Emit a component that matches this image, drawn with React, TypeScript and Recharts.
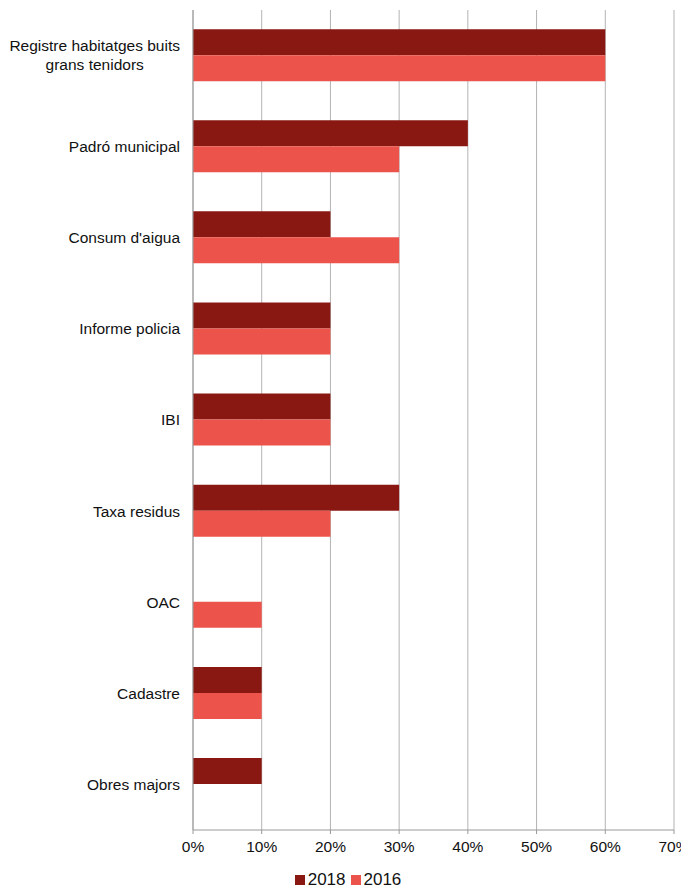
import { BarChart, Bar, XAxis, YAxis, CartesianGrid, Legend } from 'recharts';

const categories = [
  'Registre habitatges buits grans tenidors',
  'Padró municipal',
  "Consum d'aigua",
  'Informe policia',
  'IBI',
  'Taxa residus',
  'OAC',
  'Cadastre',
  'Obres majors',
];
const values2018 = [60, 40, 20, 20, 20, 30, 0, 10, 10];
const values2016 = [60, 30, 30, 20, 20, 20, 10, 10, 0];
const xTicks = [0, 10, 20, 30, 40, 50, 60, 70];
const seriesNames = ['2018', '2016'];
const seriesColors = ['#8a1812', '#ec534b'];

const data = categories.map((name, i) => ({
  name,
  y2018: values2018[i],
  y2016: values2016[i],
}));

const FONT = '"Liberation Sans", Arial, sans-serif';
const FS = 15.5;

let ctx: CanvasRenderingContext2D | null = null;
function measure(text: string): number {
  if (!ctx) ctx = document.createElement('canvas').getContext('2d');
  if (!ctx) return text.length * 8;
  ctx.font = `${FS}px ${FONT}`;
  return ctx.measureText(text).width;
}

function wrap(text: string, maxW: number): string[] {
  const words = text.split(' ');
  const lines: string[] = [];
  let cur = '';
  words.forEach((w) => {
    const next = cur ? cur + ' ' + w : w;
    if (cur && measure(next) > maxW) {
      lines.push(cur);
      cur = w;
    } else {
      cur = next;
    }
  });
  if (cur) lines.push(cur);
  return lines;
}

function CategoryTick(props: any) {
  const { x, y, payload } = props;
  const lines = wrap(String(payload.value), 178);
  const maxW = Math.max(...lines.map(measure));
  const cx = x - maxW / 2;
  const lh = 19;
  const startY = y - ((lines.length - 1) * lh) / 2;
  return (
    <g>
      {lines.map((l, i) => (
        <text
          key={i}
          x={cx}
          y={startY + i * lh}
          dy="0.35em"
          textAnchor="middle"
          fontSize={FS}
          fontFamily={FONT}
          fill="#111"
        >
          {l}
        </text>
      ))}
    </g>
  );
}

function LegendContent() {
  return (
    <div
      style={{
        display: 'flex',
        justifyContent: 'center',
        fontFamily: FONT,
        fontSize: 17,
        color: '#111',
        lineHeight: '18px',
        paddingTop: 6,
        paddingLeft: 14,
      }}
    >
      {seriesNames.map((n, i) => (
        <span key={n} style={{ display: 'flex', alignItems: 'center', marginRight: i === 0 ? 5 : 0 }}>
          <span
            style={{
              display: 'inline-block',
              width: 10,
              height: 10,
              background: seriesColors[i],
              marginRight: 3,
            }}
          />
          {n}
        </span>
      ))}
    </div>
  );
}

export default function App() {
  return (
    <BarChart
      width={681}
      height={882}
      data={data}
      layout="vertical"
      margin={{ top: 2, right: 15, left: 0, bottom: 0 }}
      barCategoryGap="21%"
      barGap={0}
    >
      <CartesianGrid horizontal={false} stroke="#b3b3b3" />
      <XAxis
        type="number"
        domain={[0, 70]}
        ticks={xTicks}
        interval={0}
        tickFormatter={(v) => `${v}%`}
        tick={{ fontSize: FS, fill: '#111', fontFamily: FONT }}
        stroke="#999"
        tickSize={4}
        tickMargin={7}
        height={35}
      />
      <YAxis
        type="category"
        dataKey="name"
        width={185}
        tick={<CategoryTick />}
        tickLine={false}
        tickSize={0}
        tickMargin={13}
        stroke="#999"
        interval={0}
      />
      <Legend verticalAlign="bottom" height={25} content={<LegendContent />} />
      <Bar dataKey="y2018" name="2018" fill={seriesColors[0]} isAnimationActive={false} />
      <Bar dataKey="y2016" name="2016" fill={seriesColors[1]} isAnimationActive={false} />
    </BarChart>
  );
}
